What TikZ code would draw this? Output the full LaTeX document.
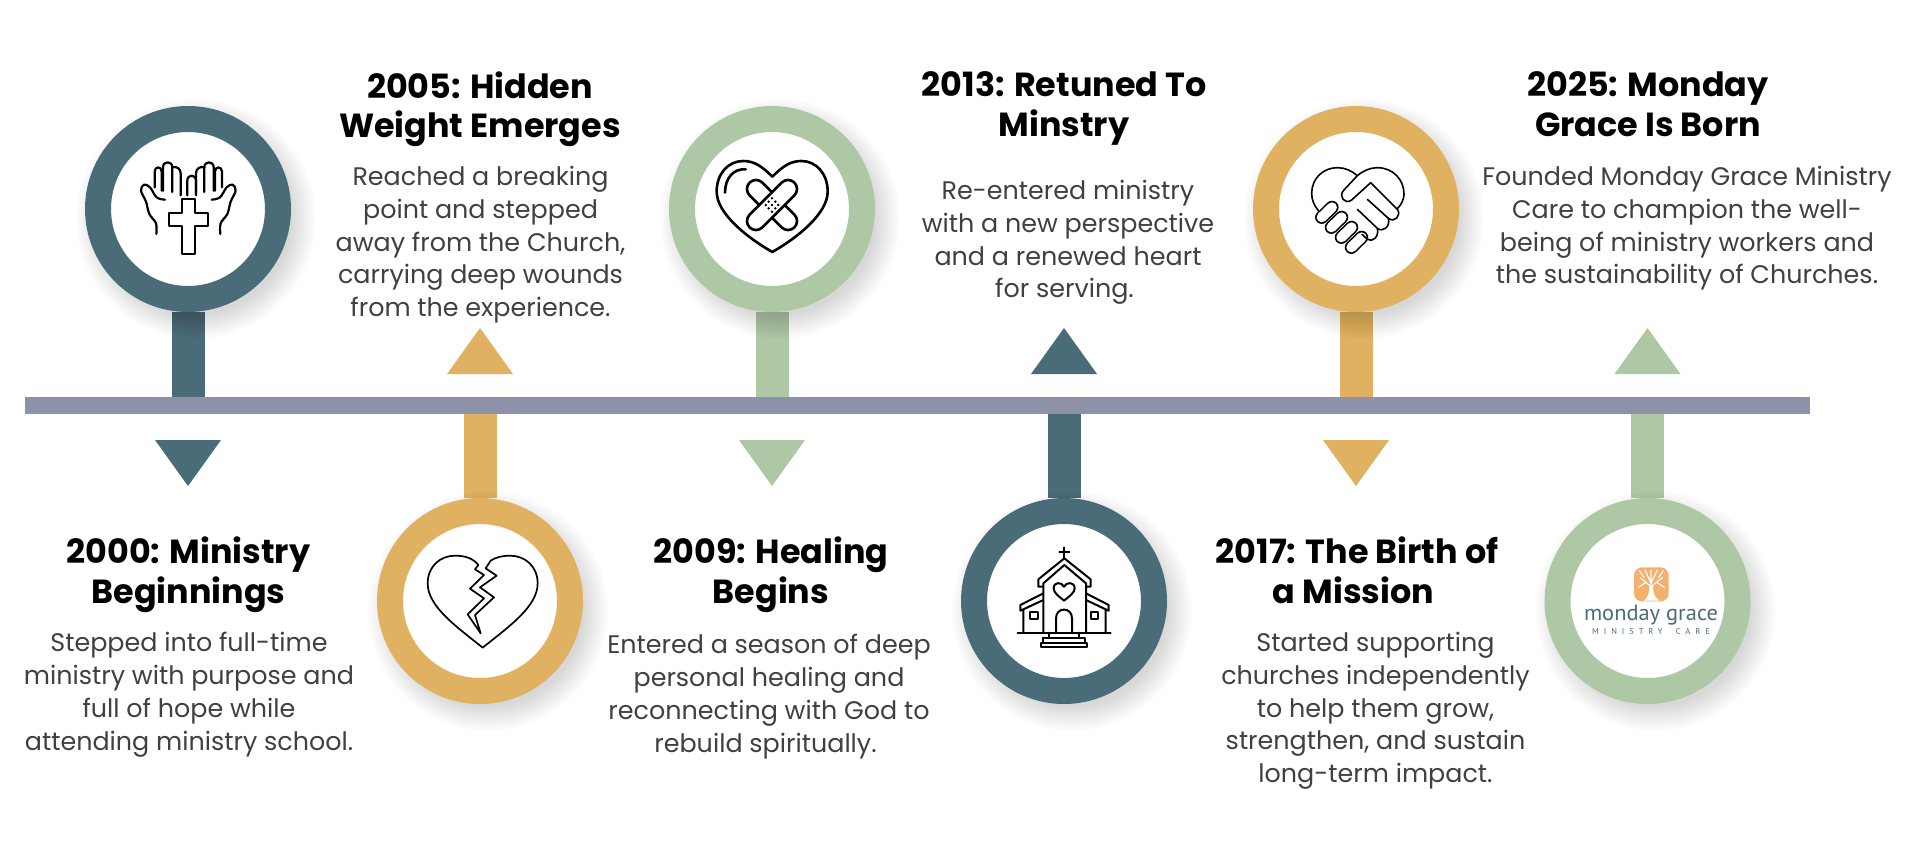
\documentclass[tikz,border=0pt]{standalone}
\usepackage{fontspec}
\setmainfont{Poppins}
\newfontfamily\logofont{PT Sans}
\definecolor{cteal}{HTML}{4A6C78}
\definecolor{cgreen}{HTML}{AEC8A5}
\definecolor{cgold}{HTML}{E0B160}
\definecolor{cbar}{HTML}{8E92A9}
\definecolor{cbody}{HTML}{404040}
\definecolor{corange}{HTML}{F4B06F}
\newcommand{\padright}[1]{\mbox{\hspace{#1}}}
\tikzset{
  ring/.style={circle,draw=#1,line width=26pt,fill=white,minimum size=180pt,inner sep=0pt,outer sep=0pt},
  stemline/.style={draw=#1,line width=33pt},
  barbox/.style={rectangle,fill=cbar,minimum width=1785pt,minimum height=16.7pt,inner sep=0pt,outer sep=0pt},
  ttl/.style={align=center,anchor=north,inner sep=0pt,font=\fontsize{33.4}{39.4}\selectfont\bfseries,text=black},
  bodytxt/.style={align=center,anchor=north,inner sep=0pt,font=\fontsize{25.4}{32.8}\selectfont,text=cbody},
  zoomat/.style n args={2}{shift={(#1,#2)},x=0.33333pt,y=-0.33333pt},
  ic/.style={draw=black,line width=#1,line join=round,line cap=round},
  ic/.default=2.2pt,
  capsule/.style={draw=black,line width=1.6pt,double=white,double distance=10pt,line cap=round},
  anchorcircle/.style={minimum size=206pt,inner sep=0pt,outer sep=0pt,circle}
}
\newcommand{\softshade}[2]{%
  \foreach \rr in {120,118,...,96}{\fill[black,opacity=0.010] (#1+8,#2+10) circle[radius=\rr pt];}%
}
\newcommand{\downtri}[2]{\fill[#2] (#1-33,440) -- (#1+33,440) -- (#1,486) -- cycle;}
\newcommand{\uptri}[2]{\fill[#2] (#1-33,374) -- (#1+33,374) -- (#1,328) -- cycle;}
\begin{document}
\begin{tikzpicture}[x=1pt,y=-1pt]
\useasboundingbox (0,0) rectangle (1920,855);
\fill[white] (0,0) rectangle (1920,855);
\path (188,209) coordinate (p1) (480,601) coordinate (p2) (772,209) coordinate (p3)
      (1064,601) coordinate (p4) (1356,209) coordinate (p5) (1647.5,601) coordinate (p6);
\node[barbox] (bar) at (917.5,405.3) {};
\node[anchorcircle] (a1) at (p1) {};
\node[anchorcircle] (a2) at (p2) {};
\node[anchorcircle] (a3) at (p3) {};
\node[anchorcircle] (a4) at (p4) {};
\node[anchorcircle] (a5) at (p5) {};
\node[anchorcircle] (a6) at (p6) {};
% stems
\draw[stemline=cteal] (a1.south) -- (a1.south |- bar.north);
\draw[stemline=cgold] (a2.north) -- (a2.north |- bar.south);
\draw[stemline=cgreen] (a3.south) -- (a3.south |- bar.north);
\draw[stemline=cteal] (a4.north) -- (a4.north |- bar.south);
\draw[stemline=cgold] (a5.south) -- (a5.south |- bar.north);
\draw[stemline=cgreen] (a6.north) -- (a6.north |- bar.south);
% shadows
\softshade{188}{209}\softshade{480}{601}\softshade{772}{209}\softshade{1064}{601}\softshade{1356}{209}\softshade{1647.5}{601}
% rings
\node[ring=cteal] (r1) at (p1) {};
\node[ring=cgold] (r2) at (p2) {};
\node[ring=cgreen] (r3) at (p3) {};
\node[ring=cteal] (r4) at (p4) {};
\node[ring=cgold] (r5) at (p5) {};
\node[ring=cgreen] (r6) at (p6) {};
% triangles
\downtri{188}{cteal}\uptri{480}{cgold}\downtri{772}{cgreen}\uptri{1064}{cteal}\downtri{1356}{cgold}\uptri{1647.5}{cgreen}
% ---- icon 1: hands and cross
\begin{scope}[zoomat={60}{90}]
 \foreach \mm in {0,1}{
 \begin{scope}[cm={1-2*\mm,0,0,1,(\mm*770,0)}]
  \draw[ic] plot[smooth,tension=.6] coordinates {(289,432) (288,400) (268,372) (258,335) (243,302) (252,284) (270,292) (290,322) (315,329)};
  \draw[ic] (284,292) -- (284,245) .. controls (284,228) and (305,228) .. (305,245) -- (305,302);
  \draw[ic] (309,302) -- (309,232) .. controls (309,212) and (337,212) .. (337,232) -- (337,306);
  \draw[ic] (337,232) .. controls (350,228) and (362,236) .. (362,250) -- (362,316);
 \end{scope}}
 \draw[ic] (382,316) -- (382,272) .. controls (382,252) and (408,252) .. (408,272) -- (408,312);
 \draw[ic] (365,327) -- (405,327) -- (405,368) -- (443,368) -- (443,408) -- (405,408) -- (405,492) -- (365,492) -- (365,408) -- (327,408) -- (327,368) -- (365,368) -- cycle;
\end{scope}
% ---- icon 2: heart with plasters
\begin{scope}[zoomat={650}{90}]
 \draw[ic=2.6pt] (367,260) .. controls (335,228) and (312,213) .. (280,213) .. controls (235,213) and (200,250) .. (200,305) .. controls (200,370) and (290,442) .. (367,486) .. controls (444,442) and (533,370) .. (533,305) .. controls (533,250) and (498,213) .. (454,213) .. controls (422,213) and (399,228) .. (367,260);
 \draw[ic=2.6pt] (287,238) .. controls (250,235) and (225,265) .. (225,308);
 \draw[ic=2.6pt,rounded corners=9pt,rotate around={-45:(366,345)}] (271,318) rectangle (461,372);
 \draw[ic=2.6pt,fill=white,rounded corners=9pt,rotate around={45:(366,345)}] (271,318) rectangle (461,372);
 \foreach \dx/\dy in {0/-20,-19/0,0/0,19/0,0/20,-10/-10,10/-10,-10/10,10/10}{\fill[black] (366+\dx,345+\dy) circle[radius=1.4pt];}
\end{scope}
% ---- icon 3: handshake heart
\begin{scope}[zoomat={1240}{90}]
 \draw[ic=1.6pt] (235,362) .. controls (222,345) and (215,330) .. (215,310) .. controls (215,265) and (250,233) .. (292,233) .. controls (315,233) and (335,242) .. (352,257) .. controls (370,242) and (390,233) .. (412,233) .. controls (458,233) and (492,268) .. (492,312) .. controls (492,328) and (484,345) .. (470,358);
 \draw[capsule] (245,382) -- (276,352);
 \draw[capsule] (274,412) -- (305,382);
 \draw[capsule] (304,442) -- (335,412);
 \draw[capsule] (334,472) -- (365,442);
 \draw[ic=1.6pt,fill=white] (352,257) -- (310,302) .. controls (295,320) and (315,345) .. (335,330) -- (392,278) -- (472,358) .. controls (485,375) and (465,400) .. (445,385) -- (382,328);
 \draw[ic=1.6pt] (445,385) .. controls (452,410) and (428,428) .. (412,415) -- (352,358);
 \draw[ic=1.6pt] (412,415) .. controls (418,440) and (398,458) .. (382,448) -- (366,433);
\end{scope}
% ---- icon 4: broken heart
\begin{scope}[zoomat={370}{490}]
 \draw[ic=1.7pt] (332,430) -- (293,373) -- (342,325) -- (300,296) -- (342,255) -- (315,238) -- (325,225) .. controls (310,205) and (285,197) .. (255,197) .. controls (210,197) and (173,230) .. (173,280) .. controls (173,350) and (260,410) .. (338,473) .. controls (416,410) and (503,350) .. (503,280) .. controls (503,230) and (466,197) .. (420,197) .. controls (395,197) and (375,203) .. (362,212) -- (347,235) -- (380,257) -- (330,292) -- (372,322) -- (315,375) -- cycle;
\end{scope}
% ---- icon 5: church
\begin{scope}[zoomat={960}{490}]
 \draw[ic=2pt] (173,428) -- (452,428);
 \draw[ic=2pt] (313,172) -- (313,205) (298,186) -- (328,186);
 \draw[ic=2pt] (250,428) -- (250,280) -- (313,225) -- (378,280) -- (378,428);
 \draw[ic=2pt] (250,290) -- (235,290) -- (235,268) -- (313,205) -- (392,268) -- (392,290) -- (378,290);
 \draw[ic=2pt] (312,332) .. controls (295,318) and (281,308) .. (281,295) .. controls (281,275) and (305,275) .. (312,290) .. controls (319,275) and (344,275) .. (344,295) .. controls (344,308) and (329,318) .. (312,332) -- cycle;
 \draw[ic=2pt] (288,428) -- (288,385) .. controls (288,350) and (336,350) .. (336,385) -- (336,428);
 \draw[ic=2pt] (250,310) -- (181,345) -- (181,362) -- (190,358) -- (190,428) (190,358) -- (250,330);
 \draw[ic=2pt] (378,310) -- (446,345) -- (446,362) -- (437,358) -- (437,428) (437,358) -- (378,330);
 \draw[ic=2pt] (210,367) rectangle (233,388);
 \draw[ic=2pt] (392,367) rectangle (415,388);
 \draw[ic=2pt] (268,428) -- (268,443) -- (358,443) -- (358,428);
 \draw[ic=2pt] (250,443) -- (250,458) -- (375,458) -- (375,443) -- (358,443);
 \draw[ic=2pt] (243,458) rectangle (381,472);
 \draw[ic=2pt] (250,443) -- (268,443);
\end{scope}
% ---- icon 6: logo
\begin{scope}[zoomat={1540}{490}]
 \fill[corange,rounded corners=8pt] (282,232) rectangle (386,334);
 \fill[white] (312,332) .. controls (326,322) and (328,305) .. (328,285) -- (339,285) .. controls (339,305) and (342,322) .. (358,332) -- cycle;
 \draw[white,line width=1.1pt,line cap=round] (333,295) -- (333,240) (333,290) -- (300,262) (333,290) -- (368,262) (333,280) -- (315,240) (333,280) -- (352,240) (318,277) -- (295,292) (350,277) -- (373,292) (312,262) -- (298,242) (356,262) -- (370,242);
 \node[inner sep=0pt,text=cteal,font=\logofont\fontsize{22}{22}\selectfont,xscale=1.02] (logoa) at (333,376) {monday grace};
 \node[inner sep=0pt,text=cteal,font=\logofont\fontsize{8.5}{9}\selectfont,anchor=north] (logob) at (333,416) {\addfontfeatures{LetterSpace=58}MINISTRY\hspace{6pt} CARE};
\end{scope}
% ---- texts
\node[ttl] (t1) at (188.5,537) {2000: Ministry\\Beginnings};
\node[bodytxt] (b1) at (189,632) {Stepped into full-time\\ministry with purpose and\\full of hope while\\attending ministry school.};
\node[ttl] (t2) at (480,71.5) {2005: Hidden\\Weight Emerges};
\node[bodytxt] (b2) at (480.5,166) {Reached a breaking\\point and stepped\\away from the Church,\\carrying deep wounds\\from the experience.};
\node[ttl] (t3) at (771,537) {2009: Healing\\Begins};
\node[bodytxt] (b3) at (769,634) {Entered a season of deep\\personal healing and\\reconnecting with God to\\rebuild spiritually.\padright{7pt}};
\node[ttl] (t4) at (1064,71.5) {2013: Retuned To\\Minstry};
\node[bodytxt] (b4) at (1068,180) {Re-entered ministry\\with a new perspective\\and a renewed heart\\for serving.\padright{7pt}};
\node[ttl] (t5) at (1357,537) {2017: The Birth of\\a Mission\padright{7pt}};
\node[bodytxt] (b5) at (1375.5,632) {Started supporting\\churches independently\\to help them grow,\\strengthen, and sustain\\long-term impact.};
\node[ttl] (t6) at (1648,71.5) {2025: Monday\\Grace Is Born};
\node[bodytxt] (b6) at (1687,166) {Founded Monday Grace Ministry\\Care to champion the well-\\being of ministry workers and\\the sustainability of Churches.};
\end{tikzpicture}
\end{document}
